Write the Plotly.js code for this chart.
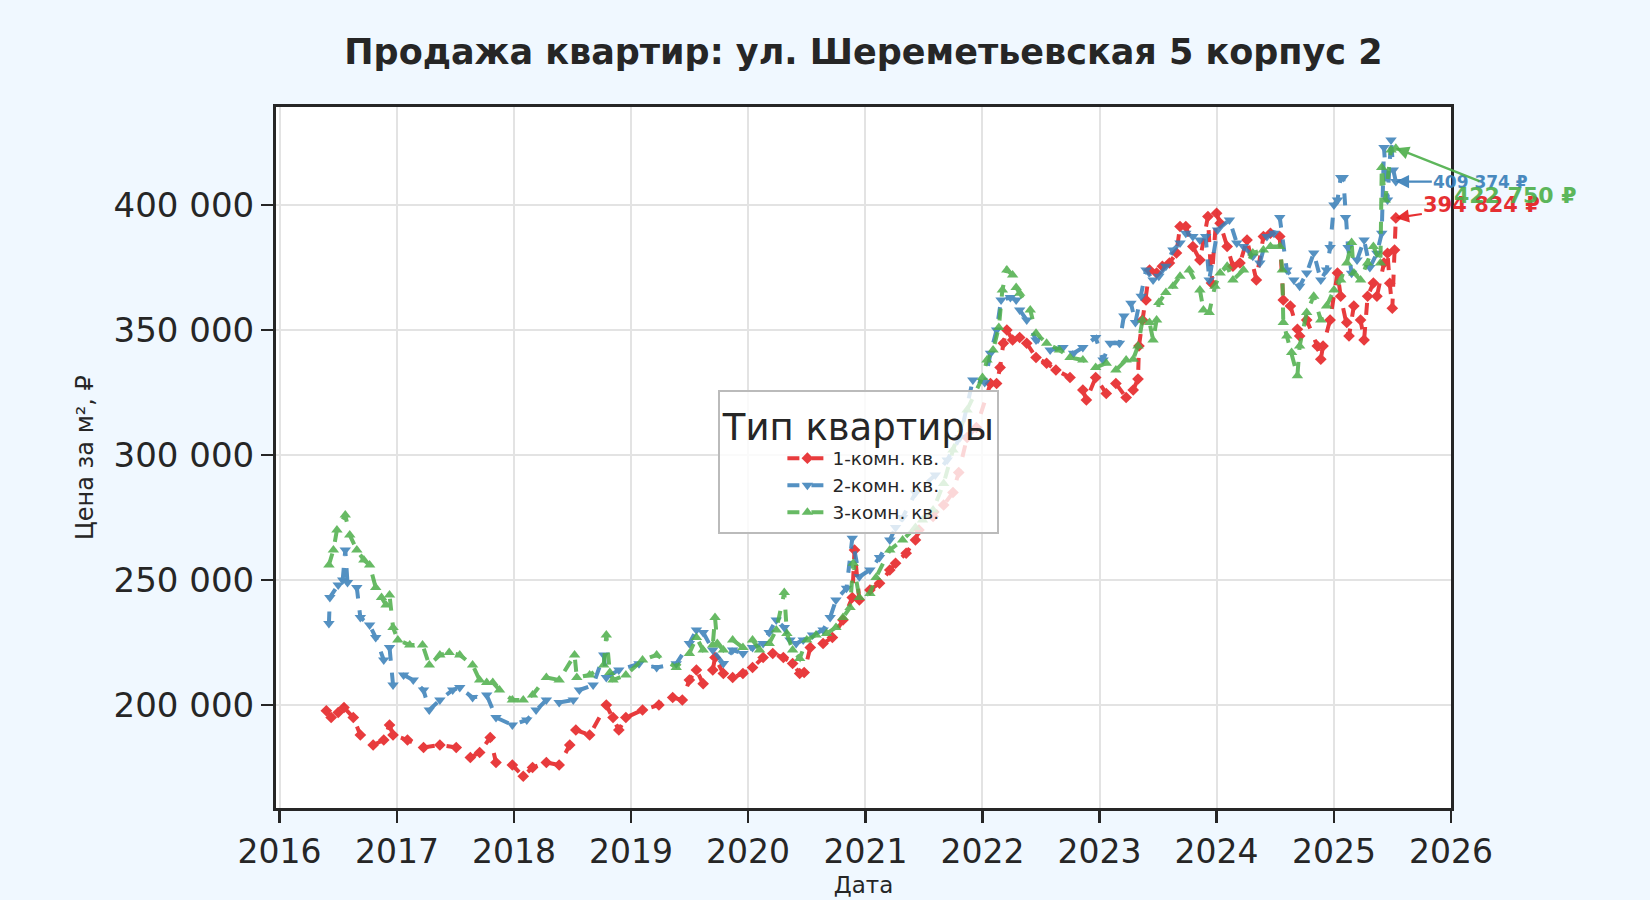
<!DOCTYPE html>
<html>
<head>
<meta charset="utf-8">
<script src="https://cdn.plot.ly/plotly-3.0.1.min.js"></script>
<style>
html,body{margin:0;padding:0;background:#f0f8ff;}
#chart{width:1650px;height:900px;}
</style>
</head>
<body>
<div id="chart"></div>
<script>
// ---- Data (₽ per m²) ----
const seriesNames = ["1-комн. кв.", "2-комн. кв.", "3-комн. кв."];

const oneRoomDates = ["2016-05-26","2016-06-10","2016-07-02","2016-07-20","2016-08-18","2016-09-09","2016-10-19","2016-11-21","2016-12-09","2016-12-20",
"2017-02-03","2017-03-25","2017-05-15","2017-07-05","2017-08-18","2017-09-16","2017-10-19","2017-11-06","2017-12-27",
"2018-01-30","2018-02-28","2018-04-12","2018-05-22","2018-06-24","2018-07-13","2018-08-25","2018-10-16","2018-11-06","2018-11-24","2018-12-16",
"2019-02-06","2019-03-29","2019-05-11","2019-06-10","2019-07-02","2019-07-24","2019-08-14","2019-09-13","2019-09-20","2019-10-16","2019-11-14","2019-12-16",
"2020-01-15","2020-02-17","2020-03-18","2020-04-20","2020-05-19","2020-06-10","2020-06-24","2020-07-13","2020-08-22","2020-09-20","2020-10-23","2020-11-21","2020-11-28","2020-12-13",
"2021-01-15","2021-02-14","2021-03-18","2021-04-05","2021-05-08","2021-06-06","2021-06-17","2021-07-31","2021-09-02","2021-10-01","2021-10-19","2021-11-14","2021-12-13",
"2022-01-26","2022-02-14","2022-02-25","2022-03-07","2022-03-18","2022-04-05","2022-04-27","2022-05-19","2022-06-17","2022-07-20","2022-08-18","2022-10-01","2022-11-10","2022-11-21","2022-12-20",
"2023-01-22","2023-02-21","2023-03-25","2023-04-16","2023-05-01","2023-05-04","2023-05-15","2023-05-26","2023-06-06","2023-06-28","2023-07-16","2023-08-07","2023-08-29","2023-09-09","2023-09-27","2023-10-19","2023-11-10","2023-12-05","2023-12-16",
"2024-01-01","2024-01-12","2024-02-03","2024-02-21","2024-03-14","2024-04-05","2024-05-04","2024-05-26","2024-06-17","2024-07-16","2024-07-27","2024-08-18","2024-09-09","2024-09-16","2024-10-08","2024-11-10","2024-11-21","2024-11-28","2024-12-20",
"2025-01-12","2025-01-22","2025-02-10","2025-02-17","2025-03-04","2025-03-25","2025-04-05","2025-04-16","2025-05-04","2025-05-15","2025-06-06","2025-06-17","2025-06-24","2025-07-02","2025-07-09","2025-07-13"];
const oneRoomPrices = [197700,195000,197000,199000,195000,188000,184000,186000,192000,188000,
186000,183000,184000,183000,179000,181000,187000,177000,176000,
171500,175000,177000,176000,184000,190000,188000,200000,195000,190000,195000,
198000,200000,203000,202000,210000,214000,208500,214000,219000,212600,211000,212600,
215000,219000,220600,219000,216600,212600,213000,223000,224600,227000,234000,243000,262000,242000,
246000,248700,254000,256700,260700,266000,270000,275400,280000,285000,293000,307000,311000,
328600,328600,335000,344700,350000,346000,347000,344700,339000,336700,334000,331000,326000,322000,331000,
324600,328600,323000,326000,330400,343600,354000,362000,374000,372800,375500,376800,380800,391400,391400,383400,378000,395400,368800,
396700,392700,383400,375500,376800,386000,370000,387400,388700,387400,362000,359600,350300,347600,354000,343600,338300,343600,354000,
372800,363500,353000,347600,359600,354000,346000,363500,368800,363500,376800,380700,368700,358700,382000,394824];

const twoRoomDates = ["2016-06-03","2016-06-06","2016-07-02","2016-07-16","2016-07-24","2016-07-31","2016-08-29","2016-09-09","2016-10-08","2016-10-27","2016-11-21","2016-12-09","2016-12-20",
"2017-01-22","2017-02-21","2017-03-25","2017-04-12","2017-05-15","2017-06-24","2017-07-16","2017-08-25","2017-10-08","2017-11-06","2017-12-27",
"2018-02-10","2018-03-11","2018-04-12","2018-05-22","2018-07-05","2018-07-24","2018-09-05","2018-10-08","2018-10-16","2018-11-24",
"2019-01-26","2019-03-22","2019-05-22","2019-07-02","2019-07-24","2019-08-14","2019-09-13","2019-10-16","2019-11-14","2019-12-16",
"2020-01-15","2020-02-17","2020-03-07","2020-03-29","2020-04-23","2020-05-11","2020-05-30","2020-06-21","2020-07-20","2020-08-22","2020-09-13","2020-10-01","2020-11-03","2020-11-21","2020-12-13",
"2021-01-15","2021-02-14","2021-03-18","2021-04-05","2021-04-27","2021-06-06","2021-08-07","2021-09-13","2021-10-23","2021-12-02",
"2022-01-08","2022-01-26","2022-02-14","2022-02-28","2022-03-29","2022-04-16","2022-04-27","2022-05-19","2022-06-17","2022-07-31","2022-09-09","2022-10-12","2022-11-10","2022-12-20",
"2023-01-12","2023-02-03","2023-03-04","2023-03-18","2023-04-09","2023-04-23","2023-05-11","2023-05-26","2023-06-17","2023-07-05","2023-07-27","2023-08-18","2023-09-09","2023-09-27","2023-10-19","2023-11-10","2023-11-28","2023-12-09",
"2024-01-04","2024-02-10","2024-03-04","2024-03-25","2024-04-23","2024-05-15","2024-06-06","2024-06-28","2024-07-16","2024-08-07","2024-08-29","2024-09-16","2024-10-08","2024-10-30","2024-11-21","2024-12-09","2024-12-20",
"2025-01-01","2025-01-12","2025-01-22","2025-01-30","2025-02-06","2025-02-14","2025-02-25","2025-03-14","2025-04-05","2025-04-23","2025-05-15","2025-05-30","2025-06-06","2025-06-17","2025-06-28","2025-07-05","2025-07-13"];
const twoRoomPrices = [232600,243000,248000,250000,262000,249000,247000,235000,232000,227000,218000,223000,208000,
212000,210000,206000,198000,202000,206000,207000,203000,204000,195000,192000,
194000,198000,202000,201000,202000,206000,208000,220000,211000,214000,
216500,215000,216500,224600,230000,229000,222000,216600,222000,220600,
223000,224600,229000,234000,231000,226000,224600,226000,228000,230000,235000,242000,246700,266700,251300,
254000,259000,266000,271000,275000,284800,292000,298000,307000,330000,
329000,340700,350000,362000,363000,362000,358000,354000,346000,342000,343000,340700,343000,347000,
338000,344700,344700,355600,360700,353000,363500,374000,370000,371500,375500,382000,384800,388700,387400,386000,387400,370000,
390000,394000,384800,383400,379500,376800,387400,388700,395000,374000,370000,367500,372800,380800,370000,374000,383000,
400000,402000,411000,411000,395000,383000,372700,378000,386000,375000,380700,388700,423000,402000,426000,414000,409374];

const threeRoomDates = ["2016-06-03","2016-06-17","2016-06-28","2016-07-24","2016-08-07","2016-08-29","2016-09-20","2016-10-08","2016-10-27","2016-11-14","2016-11-28","2016-12-09","2016-12-20",
"2017-01-04","2017-02-10","2017-03-22","2017-04-12","2017-05-15","2017-06-13","2017-07-16","2017-08-25","2017-09-16","2017-10-08","2017-10-27","2017-11-17","2017-12-27",
"2018-01-30","2018-02-28","2018-04-12","2018-05-22","2018-07-09","2018-07-16","2018-08-25","2018-10-08","2018-10-16","2018-10-27","2018-11-06","2018-12-16",
"2019-02-06","2019-03-22","2019-05-22","2019-07-02","2019-07-24","2019-08-14","2019-09-13","2019-09-20","2019-09-27","2019-10-16","2019-11-14","2019-12-16",
"2020-01-15","2020-02-06","2020-03-07","2020-03-29","2020-04-23","2020-05-01","2020-05-19","2020-06-10","2020-07-02","2020-07-31","2020-09-02","2020-10-01","2020-10-23","2020-11-14","2020-11-24","2020-12-13",
"2021-01-15","2021-02-03","2021-03-18","2021-04-27","2021-06-06","2021-06-28","2021-07-31","2021-09-02","2021-10-01","2021-11-14",
"2022-01-01","2022-01-15","2022-02-03","2022-02-21","2022-03-04","2022-03-18","2022-04-05","2022-04-16","2022-04-27","2022-05-30","2022-06-17","2022-07-20","2022-08-29","2022-10-01","2022-11-10","2022-12-20",
"2023-01-22","2023-02-21","2023-03-25","2023-04-16","2023-05-01","2023-05-15","2023-06-06","2023-06-17","2023-06-28","2023-07-05","2023-07-27","2023-08-18","2023-09-09","2023-10-08","2023-11-10","2023-11-21","2023-12-09","2023-12-27",
"2024-01-12","2024-02-03","2024-02-21","2024-03-25","2024-04-23","2024-05-26","2024-06-17","2024-07-16","2024-07-24","2024-07-27","2024-08-07","2024-08-22","2024-09-09","2024-09-16","2024-10-08","2024-10-30","2024-11-21","2024-12-09",
"2025-01-01","2025-01-22","2025-02-10","2025-02-25","2025-03-04","2025-03-25","2025-04-16","2025-05-04","2025-05-26","2025-05-30","2025-06-10","2025-06-28","2025-07-13"];
const threeRoomPrices = [256000,262000,270000,276000,268000,262000,258000,256000,247000,243000,240000,244000,231000,
226000,224000,224000,216000,220000,221000,220000,216000,210000,209000,209000,206000,202000,
202000,204000,211000,210000,220000,211000,212000,216000,228000,213000,210000,212000,
218000,220000,215000,220600,227000,222000,224000,235000,224600,222000,226000,223000,
226000,222000,224600,230000,245000,228600,222000,218600,226000,228000,228600,231000,235000,239000,256700,243000,
244600,251000,262000,266000,271000,274000,278000,288600,302000,318000,
331000,338000,342000,351000,366000,374000,372000,367000,364700,358000,348700,344700,342000,339000,338000,335000,
336700,334000,338000,338300,343600,354000,353000,346000,354000,361000,365000,367500,371500,374000,366000,358000,357000,367500,
372800,375500,370000,374000,380800,382000,383400,383400,374000,353000,347600,341000,331700,343600,357000,363500,354000,359600,
366000,370000,376800,385000,372800,370000,376800,383400,376800,415000,402000,422000,422750];

const seriesColors = ["#e41a1c", "#377eb8", "#4daf4a"];
const seriesSymbols = ["diamond", "triangle-down", "triangle-up"];
const yTickValues = [200000, 250000, 300000, 350000, 400000];
const lastLabels = ["394 824 ₽", "409 374 ₽", "422 750 ₽"];

// ---- Build traces ----
const xs = [oneRoomDates, twoRoomDates, threeRoomDates];
const ys = [oneRoomPrices, twoRoomPrices, threeRoomPrices];
const traces = xs.map((x, i) => ({
  type: "scatter",
  mode: "lines+markers",
  name: seriesNames[i],
  x: x,
  y: ys[i],
  opacity: 0.85,
  line: {color: seriesColors[i], width: 4, dash: "dash"},
  marker: {color: seriesColors[i], symbol: seriesSymbols[i], size: i === 0 ? 9 : 10}
}));

// ---- Annotations for last values ----
const annFont = [21, 17, 22];
const annAx = [86, 85, 119];
const annAy = [-13, 0, 47];
const annotations = [1, 0, 2].map(i => {
  const x = xs[i][xs[i].length - 1];
  const y = ys[i][ys[i].length - 1];
  return {
    x: x, y: y, xref: "x", yref: "y",
    text: lastLabels[i],
    showarrow: true, ax: annAx[i], ay: annAy[i],
    arrowhead: 2, arrowsize: 1.2, arrowwidth: 2.2,
    arrowcolor: seriesColors[i],
    font: {family: "DejaVu Sans", size: annFont[i], color: seriesColors[i], weight: "bold"},
    opacity: 0.9
  };
});

const layout = {
  width: 1650, height: 900,
  paper_bgcolor: "#f0f8ff",
  plot_bgcolor: "#ffffff",
  separators: ", ",
  font: {family: "DejaVu Sans", color: "#262626"},
  margin: {l: 276, r: 199, t: 107, b: 92, pad: 0},
  title: {
    text: "<b>Продажа квартир: ул. Шереметьевская 5 корпус 2</b>",
    font: {family: "DejaVu Sans", size: 35, color: "#262626"},
    x: 0.5, xref: "paper", xanchor: "center",
    y: 1 - 52/900, yref: "container", yanchor: "middle"
  },
  xaxis: {
    type: "date",
    range: ["2015-12-21", "2026-01-01"],
    dtick: "M12", tick0: "2016-01-01", tickformat: "%Y",
    showgrid: true, gridcolor: "#e3e3e3", gridwidth: 2,
    showline: true, linecolor: "#262626", linewidth: 3, mirror: true,
    ticks: "outside", ticklen: 12, tickwidth: 2.5, tickcolor: "#262626",
    tickfont: {size: 33, color: "#262626"},
    zeroline: false,
    title: {text: "Дата", font: {size: 23, color: "#262626"}, standoff: 8}
  },
  yaxis: {
    range: [158800, 439200],
    tickvals: yTickValues,
    tickformat: ",d",
    showgrid: true, gridcolor: "#e3e3e3", gridwidth: 2,
    showline: true, linecolor: "#262626", linewidth: 3, mirror: true,
    ticks: "outside", ticklen: 12, tickwidth: 2.5, tickcolor: "#262626",
    tickfont: {size: 34, color: "#262626"},
    zeroline: false,
    title: {text: "Цена за м², ₽", font: {size: 24, color: "#262626"}, standoff: 14}
  },
  legend: {
    x: 0.3765, y: 0.597, xanchor: "left", yanchor: "top",
    bgcolor: "rgba(255,255,255,0.8)",
    bordercolor: "#bbbbbb", borderwidth: 2,
    font: {size: 18.5, color: "#262626"},
    title: {text: "Тип квартиры", side: "top center", font: {size: 37, color: "#262626"}},
    indentation: 62,
    itemwidth: 40
  },
  annotations: annotations,
  showlegend: true
};

Plotly.newPlot("chart", traces, layout, {displayModeBar: false, staticPlot: true});
</script>
</body>
</html>
